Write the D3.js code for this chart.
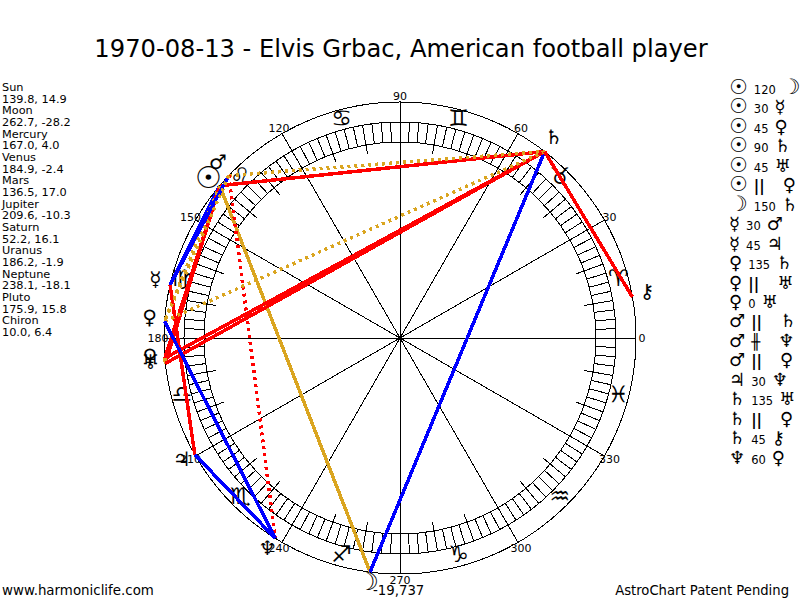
<!DOCTYPE html>
<html>
<head>
<meta charset="utf-8">
<title>AstroChart</title>
<script src="https://cdnjs.cloudflare.com/ajax/libs/d3/7.8.5/d3.min.js"></script>
<style>
    html, body { margin: 0; padding: 0; background: #fff; }
    text { font-family: "DejaVu Sans", Verdana, sans-serif; fill: #000; }
    line, circle { shape-rendering: crispEdges; }
</style>
</head>
<body>
<div id="chart"></div>
<script>
// planets, longitude and latitude as listed on the left of the chart
const planetNames = ["Sun", "Moon", "Mercury", "Venus", "Mars", "Jupiter", "Saturn", "Uranus", "Neptune", "Pluto", "Chiron"];
const planetLon = [139.8, 262.7, 167.0, 184.9, 136.5, 209.6, 52.2, 186.2, 238.1, 175.9, 10.0];
const planetLat = [14.9, -28.2, 4.0, -2.4, 17.0, -10.3, 16.1, -1.9, -18.1, 15.8, 6.4];
// the Pluto of the original font is a cross, circle and cup, closest to the Venus sign here
const planetGlyphs = ["\u2609", "\u263D", "\u263F", "\u2640", "\u2642", "\u2643", "\u2644", "\u2645", "\u2646", "\u2640", "\u26B7"];
const zodiacGlyphs = ["\u2648", "\u2649", "\u264A", "\u264B", "\u264C", "\u264D", "\u264E", "\u264F", "\u2650", "\u2651", "\u2652", "\u2653"];

// aspects, same order as the list on the right
const aspectFrom = ["Sun", "Sun", "Sun", "Sun", "Sun", "Sun", "Moon", "Mercury", "Mercury", "Venus", "Venus", "Venus", "Mars", "Mars", "Mars", "Jupiter", "Saturn", "Saturn", "Saturn", "Neptune"];
const aspectKind = ["120", "30", "45", "90", "45", "||", "150", "30", "45", "135", "||", "0", "||", "#", "||", "30", "135", "||", "45", "60"];
const aspectTo = ["Moon", "Mercury", "Venus", "Saturn", "Uranus", "Pluto", "Saturn", "Mars", "Jupiter", "Saturn", "Uranus", "Uranus", "Saturn", "Neptune", "Pluto", "Neptune", "Uranus", "Pluto", "Chiron", "Pluto"];

const degreeLabels = d3.range(0, 360, 30);

const aspectColor = d3.scaleOrdinal()
    .domain(["0", "30", "45", "60", "90", "120", "135", "150", "||", "#"])
    .range(["#daa520", "#0000ff", "#ff0000", "#0000ff", "#ff0000", "#daa520", "#ff0000", "#0000ff", "#daa520", "#ff0000"]);

const width = 800, height = 600;
const cx = 400, cy = 338;
const rOuter = 236, rRingOut = 216, rRingIn = 196, rTick = 187;
const rZodiac = 226, rDegree = 242, rGlyph = 251;

const svg = d3.select("#chart").append("svg")
    .attr("width", width)
    .attr("height", height)
    .style("display", "block");

const angle = d3.scaleLinear().domain([0, 360]).range([0, 2 * Math.PI]);
const px = (deg, r) => cx + r * Math.cos(angle(deg));
const py = (deg, r) => cy - r * Math.sin(angle(deg));

const isParallel = d => d === "||" || d === "#";
const isSun = g => g === "\u2609";
const isMoon = g => g === "\u263D";
const bigGlyph = g => isSun(g) || isMoon(g);

// title
svg.append("text")
    .attr("x", 401)
    .attr("y", 56.5)
    .attr("text-anchor", "middle")
    .attr("font-size", 24.2)
    .text("1970-08-13 - Elvis Grbac, American football player");

// circles
[rOuter, rRingOut, rRingIn].forEach(r => {
    svg.append("circle")
        .attr("cx", cx).attr("cy", cy).attr("r", r)
        .attr("fill", "none").attr("stroke", "#000");
});

// ring hatching
svg.append("g").selectAll("line")
    .data(d3.range(0, 360, 2.5))
    .join("line")
    .attr("x1", d => px(d, rRingIn)).attr("y1", d => py(d, rRingIn))
    .attr("x2", d => px(d, rRingOut)).attr("y2", d => py(d, rRingOut))
    .attr("stroke", "#000");

// long ticks every 10 degrees, spokes every 30
svg.append("g").selectAll("line")
    .data(d3.range(0, 360, 10).filter(d => d % 30 !== 0))
    .join("line")
    .attr("x1", d => px(d, rTick)).attr("y1", d => py(d, rTick))
    .attr("x2", d => px(d, rRingIn)).attr("y2", d => py(d, rRingIn))
    .attr("stroke", "#000");

svg.append("g").selectAll("line")
    .data(degreeLabels)
    .join("line")
    .attr("x1", cx).attr("y1", cy)
    .attr("x2", d => px(d, rOuter)).attr("y2", d => py(d, rOuter))
    .attr("stroke", "#000");

svg.append("circle").attr("cx", cx).attr("cy", cy).attr("r", 2.5).attr("fill", "#000");

// degree labels
svg.append("g").selectAll("text")
    .data(degreeLabels)
    .join("text")
    .attr("x", d => px(d, rDegree))
    .attr("y", d => py(d, rDegree) + 4)
    .attr("text-anchor", "middle")
    .attr("font-size", 11)
    .text(d => d);

// zodiac glyphs
svg.append("g").selectAll("text")
    .data(zodiacGlyphs)
    .join("text")
    .attr("x", (d, i) => px(15 + i * 30, rZodiac))
    .attr("y", (d, i) => py(15 + i * 30, rZodiac) + 6)
    .attr("text-anchor", "middle")
    .attr("font-size", 23)
    .text(d => d);

// aspect lines
const lonOf = name => planetLon[planetNames.indexOf(name)];
svg.append("g").selectAll("line")
    .data(aspectKind)
    .join("line")
    .attr("x1", (d, i) => px(lonOf(aspectFrom[i]), rOuter))
    .attr("y1", (d, i) => py(lonOf(aspectFrom[i]), rOuter))
    .attr("x2", (d, i) => px(lonOf(aspectTo[i]), rOuter))
    .attr("y2", (d, i) => py(lonOf(aspectTo[i]), rOuter))
    .attr("stroke", d => aspectColor(d))
    .attr("stroke-width", 3.5)
    .attr("stroke-dasharray", d => isParallel(d) ? "3,4" : null);

// planet glyphs
svg.append("g").selectAll("text")
    .data(planetGlyphs)
    .join("text")
    .attr("x", (d, i) => px(planetLon[i], rGlyph))
    .attr("y", (d, i) => py(planetLon[i], rGlyph) + (isSun(d) ? 12 : isMoon(d) ? 3 : 4))
    .attr("text-anchor", "middle")
    .attr("font-size", d => isSun(d) ? 30 : isMoon(d) ? 24 : 20)
    .attr("font-weight", d => bigGlyph(d) ? "bold" : null)
    .text(d => d);

// left list
const leftLines = planetNames.flatMap((n, i) => [n, planetLon[i].toFixed(1) + ", " + planetLat[i].toFixed(1)]);
svg.append("g").selectAll("text")
    .data(leftLines)
    .join("text")
    .attr("x", 2)
    .attr("y", (d, i) => 91 + i * 11.67)
    .attr("font-size", 11.3)
    .text(d => d);

// right list
const glyphOf = name => planetGlyphs[planetNames.indexOf(name)];
const rows = svg.append("g").selectAll("text")
    .data(aspectKind)
    .join("text")
    .attr("x", 729)
    .attr("y", (d, i) => 94 + i * 19.45);

rows.append("tspan")
    .attr("font-size", (d, i) => bigGlyph(glyphOf(aspectFrom[i])) ? 21 : 18)
    .attr("font-weight", (d, i) => bigGlyph(glyphOf(aspectFrom[i])) ? "bold" : null)
    .text((d, i) => glyphOf(aspectFrom[i]));
rows.append("tspan")
    .attr("dx", 6)
    .attr("font-size", d => isParallel(d) ? 15 : 11.5)
    .attr("font-weight", d => isParallel(d) ? "bold" : null)
    .text(d => d === "#" ? "\u256B" : d);
rows.append("tspan")
    .attr("dx", d => isParallel(d) ? 18 : 6)
    .attr("font-size", (d, i) => bigGlyph(glyphOf(aspectTo[i])) ? 21 : 18)
    .attr("font-weight", (d, i) => bigGlyph(glyphOf(aspectTo[i])) ? "bold" : null)
    .text((d, i) => glyphOf(aspectTo[i]));

// footer
svg.append("text").attr("x", 373).attr("y", 595).attr("font-size", 13.3).text("-19,737");
svg.append("text").attr("x", 2).attr("y", 595).attr("font-size", 13.4).text("www.harmoniclife.com");
svg.append("text").attr("x", 789).attr("y", 595).attr("text-anchor", "end").attr("font-size", 13.2).text("AstroChart Patent Pending");
</script>
</body>
</html>
